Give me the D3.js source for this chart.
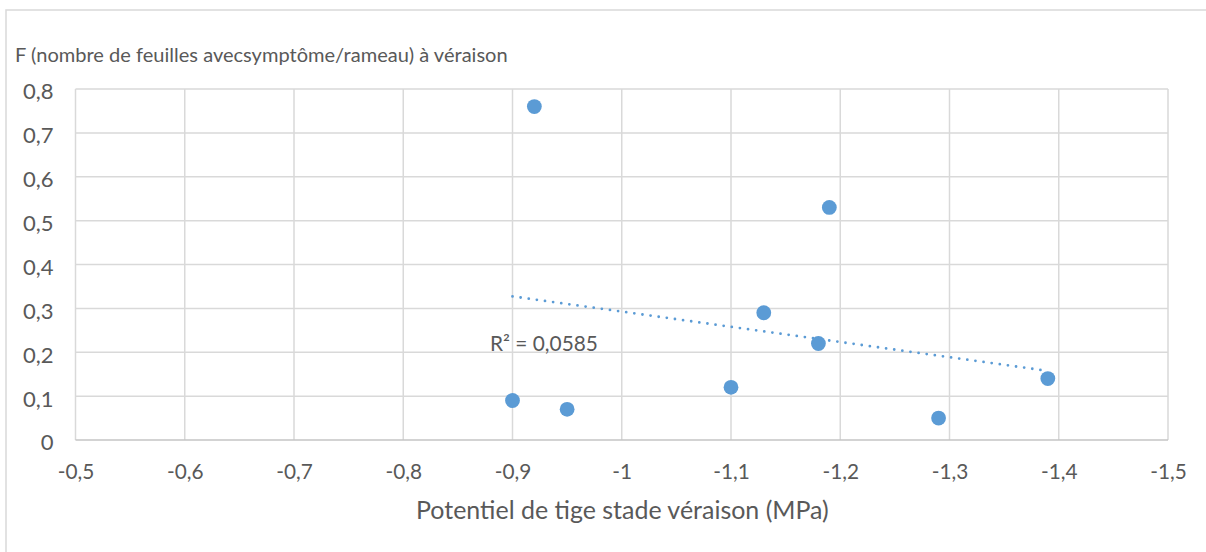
<!DOCTYPE html>
<html><head><meta charset="utf-8">
<script src="https://cdn.jsdelivr.net/npm/d3@7"></script>
<style>body{margin:0;background:#fff}svg{display:block}</style>
</head><body>
<script>
const xValues = [-0.92, -1.19, -1.13, -1.18, -1.39, -1.10, -0.90, -0.95, -1.29];
const yValues = [0.76, 0.53, 0.29, 0.22, 0.14, 0.12, 0.09, 0.07, 0.05];
const xTicks = [-0.5, -0.6, -0.7, -0.8, -0.9, -1, -1.1, -1.2, -1.3, -1.4, -1.5];
const yTicks = [0, 0.1, 0.2, 0.3, 0.4, 0.5, 0.6, 0.7, 0.8];
const yTitle = "F (nombre de feuilles avecsymptôme/rameau) à véraison";
const xTitle = "Potentiel de tige stade véraison (MPa)";
const r2Label = "R² = 0,0585";

const W = 1206, H = 552;
const L = 75.5, R = 1168, T = 89, B = 440;
const font = "Lato, 'Open Sans', sans-serif";
const txt = "#595959", grid = "#d9d9d9", blue = "#5B9BD5";
const fmt = v => String(v).replace('.', ',');

const svg = d3.select("body").append("svg").attr("width", W).attr("height", H);
svg.append("rect").attr("x", 6).attr("y", 10).attr("width", W + 10).attr("height", H + 10)
  .attr("fill", "#fff").attr("stroke", "#d9d9d9").attr("stroke-width", 1.5);

// fit a text element's font size so its width matches target
function fit(sel, target) {
  sel.style("font-size", "20px");
  const w = sel.node().getComputedTextLength();
  const fs = 20 * target / w;
  sel.style("font-size", fs + "px");
  return fs;
}
const probe = svg.append("text").style("font-family", font);
const tickFsY = fit(probe.text("0,8"), 30.6);
const tickFsX = fit(probe.text("-0,5"), 36.6);
probe.remove();

const x = d3.scaleLinear().domain([-0.5, -1.5]).range([L, R]);
const y = d3.scaleLinear().domain([0, 0.8]).range([B, T]);

// grid
svg.append("g").selectAll("line").data(xTicks).join("line")
  .attr("x1", d => x(d)).attr("x2", d => x(d)).attr("y1", T).attr("y2", B)
  .attr("stroke", grid).attr("stroke-width", 1.5);
svg.append("g").selectAll("line").data(yTicks).join("line")
  .attr("x1", L).attr("x2", R).attr("y1", d => y(d)).attr("y2", d => y(d))
  .attr("stroke", d => d === 0 ? "#c4c4c4" : grid).attr("stroke-width", 1.5);

// axes labels via d3 axes
const xAxis = svg.append("g").attr("transform", `translate(0,${B})`)
  .call(d3.axisBottom(x).tickValues(xTicks).tickFormat(fmt).tickSize(0).tickPadding(24));
const yAxis = svg.append("g").attr("transform", `translate(${L},0)`)
  .call(d3.axisLeft(y).tickValues(yTicks).tickFormat(fmt).tickSize(0).tickPadding(22));
[xAxis, yAxis].forEach(a => {
  a.select(".domain").remove();
  a.selectAll("text").attr("fill", txt).style("font-family", font);
});
xAxis.selectAll("text").style("font-size", tickFsX + "px");
yAxis.selectAll("text").style("font-size", tickFsY + "px").attr("dy", "0.45em");

// trendline (least squares)
const n = xValues.length;
const mx = d3.mean(xValues), my = d3.mean(yValues);
let sxy = 0, sxx = 0;
for (let i = 0; i < n; i++) { sxy += (xValues[i] - mx) * (yValues[i] - my); sxx += (xValues[i] - mx) ** 2; }
const slope = sxy / sxx, icpt = my - slope * mx;
const x0 = d3.max(xValues), x1 = d3.min(xValues);
svg.append("line")
  .attr("x1", x(x0)).attr("y1", y(icpt + slope * x0))
  .attr("x2", x(x1)).attr("y2", y(icpt + slope * x1))
  .attr("stroke", blue).attr("stroke-width", 2.8).attr("stroke-linecap", "round")
  .attr("stroke-dasharray", "0 8.2");

// points
svg.append("g").selectAll("circle").data(xValues.map((v, i) => [v, yValues[i]])).join("circle")
  .attr("cx", d => x(d[0])).attr("cy", d => y(d[1])).attr("r", 7.4).attr("fill", blue);

// texts
fit(svg.append("text").attr("x", 15).attr("y", 62).text(yTitle)
  .attr("fill", txt).style("font-family", font), 493);
fit(svg.append("text").attr("x", 416).attr("y", 519).text(xTitle)
  .attr("fill", txt).style("font-family", font), 413);
fit(svg.append("text").attr("x", 490).attr("y", 351).text(r2Label)
  .attr("fill", txt).style("font-family", font), 108);
</script>
</body></html>
